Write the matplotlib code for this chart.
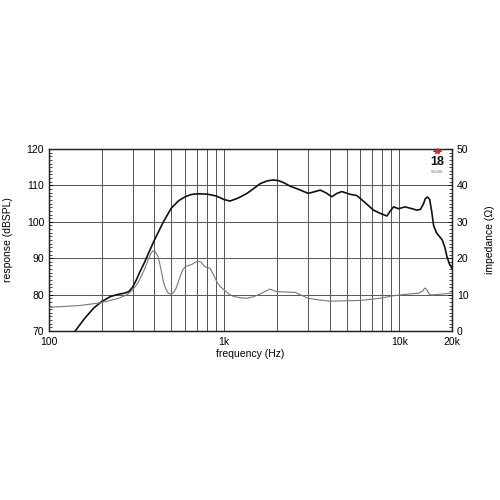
import matplotlib
matplotlib.use("Agg")
import matplotlib.pyplot as plt
from matplotlib.lines import Line2D
from matplotlib.ticker import MultipleLocator, FixedLocator, NullLocator

plt.rcParams['font.family'] = ['Liberation Sans', 'DejaVu Sans']

# frequency response (dB SPL)
spl_freq = [141, 160, 180, 200, 225, 250, 270, 285, 300, 315, 330, 350, 375, 400,
            450, 500, 550, 600, 650, 700, 800, 900, 1000, 1080, 1200, 1350, 1500,
            1610, 1750, 1900, 2050, 2200, 2380, 2700, 3020, 3300, 3540, 3800, 4120,
            4400, 4700, 5200, 5730, 6400, 7130, 7800, 8500, 8900, 9270, 9900, 10800,
            11800, 12600, 13200, 13700, 14100, 14500, 14900, 15300, 15700, 16300,
            16800, 17600, 18200, 18700, 19300, 20000]
spl_db = [70, 73.5, 76.3, 78.1, 79.5, 80.1, 80.4, 80.8, 82.0, 84.0, 86.2, 88.7, 92, 95,
          100, 103.8, 105.8, 106.9, 107.5, 107.7, 107.6, 107.1, 106.1, 105.7, 106.5,
          107.8, 109.4, 110.5, 111.2, 111.5, 111.3, 110.7, 109.8, 108.8, 107.8, 108.3,
          108.7, 108.0, 106.9, 107.8, 108.3, 107.6, 107.2, 105.2, 103.2, 102.3, 101.6,
          103.0, 104.1, 103.6, 104.1, 103.6, 103.2, 103.4, 104.8, 106.4, 106.8, 106.2,
          103.0, 99.0, 97.0, 96.2, 95.0, 93.0, 90.5, 88.5, 87.2]

# impedance (ohm)
imp_freq = [100, 150, 200, 250, 280, 300, 320, 340, 355, 370, 382, 392, 405, 420,
            435, 450, 465, 480, 497, 515, 530, 545, 561, 580, 600, 630, 655, 685,
            713, 740, 765, 790, 831, 870, 908, 950, 1000, 1060, 1130, 1250, 1350,
            1470, 1610, 1750, 1830, 1920, 2000, 2550, 2800, 3020, 3500, 4030, 6000,
            7800, 9270, 11000, 12900, 13600, 14000, 14400, 14800, 15200, 17100, 20000]
imp_ohm = [6.5, 7.0, 7.8, 9.0, 10.0, 11.3, 13.0, 15.5, 17.5, 19.8, 21.3, 22.0, 21.7,
           20.4, 17.2, 13.5, 11.5, 10.4, 10.1, 10.6, 11.6, 13.2, 15.0, 16.8, 17.7,
           18.0, 18.3, 18.9, 19.2, 18.9, 18.0, 17.5, 17.2, 15.5, 13.5, 12.2, 11.3,
           10.2, 9.5, 9.1, 9.0, 9.4, 10.2, 11.1, 11.5, 11.1, 10.8, 10.6, 9.7, 9.0,
           8.5, 8.2, 8.4, 9.0, 9.7, 10.1, 10.4, 11.0, 11.8, 11.3, 10.2, 9.9, 10.1, 10.4]

x_ticks = [100, 1000, 10000, 20000]
x_labels = ["100", "1k", "10k", "20k"]

fig = plt.figure(figsize=(5, 5), dpi=100)
ax = fig.add_axes([0.098, 0.338, 0.806, 0.364])
ax2 = ax.twinx()

ax.set_xscale('log')
ax.set_xlim(100, 20000)
ax.set_ylim(70, 120)
ax2.set_ylim(0, 50)

# grid
grid_f = [f * m for m in (100, 1000) for f in range(1, 10)] + [10000, 20000]
for f in grid_f:
    ax.axvline(f, color='#555555', lw=0.7, zorder=1)
for y in range(80, 120, 10):
    ax.axhline(y, color='#555555', lw=0.7, zorder=1)

ax2.plot(imp_freq, imp_ohm, color='#777777', lw=0.8, zorder=3)
ax.plot(spl_freq, spl_db, color='#111111', lw=1.2, zorder=4)

ax.xaxis.set_major_locator(FixedLocator(x_ticks))
ax.xaxis.set_minor_locator(NullLocator())
ax.set_xticks(x_ticks)
ax.set_xticklabels(x_labels)
ax.tick_params(axis='x', length=0, labelsize=7.5, pad=4)

ax.yaxis.set_major_locator(MultipleLocator(10))
ax.yaxis.set_minor_locator(MultipleLocator(1))
ax.tick_params(axis='y', which='both', direction='in', labelsize=7.5)
ax.tick_params(axis='y', which='major', length=3, width=0.6)
ax.tick_params(axis='y', which='minor', length=2, width=0.5)

ax2.yaxis.set_major_locator(MultipleLocator(10))
ax2.yaxis.set_minor_locator(MultipleLocator(1))
ax2.tick_params(axis='y', which='both', direction='in', labelsize=7.5)
ax2.tick_params(axis='y', which='major', length=3, width=0.6)
ax2.tick_params(axis='y', which='minor', length=2, width=0.5)

for a in (ax, ax2):
    for s in a.spines.values():
        s.set_linewidth(0.9)
        s.set_color('#222222')

ax.set_xlabel("frequency (Hz)", fontsize=7.5, labelpad=2)
ax.set_ylabel("response (dBSPL)", fontsize=7.5, labelpad=10)
ax2.set_ylabel("impedance (Ω)", fontsize=7.5, labelpad=12)

# logo
fig.add_artist(Line2D([0.866, 0.882], [0.699, 0.699], color='#dd2222', lw=0.7,
                      transform=fig.transFigure))
fig.add_artist(Line2D([0.874], [0.699], marker='*', color='#dd2222', markersize=4,
                      transform=fig.transFigure))
fig.text(0.874, 0.676, "18", color='#111111', fontsize=9, fontweight='bold',
         ha='center', va='center')
fig.text(0.874, 0.656, "SOUND", color='#666666', fontsize=2.5, ha='center', va='center')

fig.savefig("out.png", dpi=100)
